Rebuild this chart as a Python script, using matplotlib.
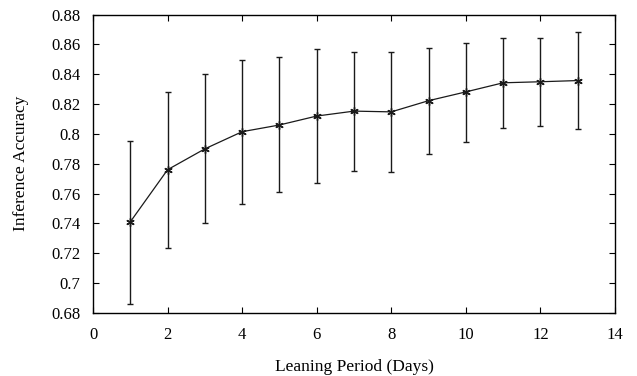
import numpy as np
import matplotlib
matplotlib.use('Agg')
import matplotlib.pyplot as plt

# 数据
days = [1, 2, 3, 4, 5, 6, 7, 8, 9, 10, 11, 12, 13]
acc_mean = [0.741, 0.776, 0.790, 0.8015, 0.806, 0.812, 0.8153, 0.8148, 0.8223, 0.8282, 0.8343, 0.8350, 0.8358]
acc_upper = [0.7955, 0.8282, 0.8404, 0.8498, 0.8514, 0.857, 0.855, 0.855, 0.8577, 0.8612, 0.8642, 0.8646, 0.8682]
acc_lower = [0.6862, 0.7236, 0.7403, 0.7531, 0.7609, 0.7672, 0.7754, 0.7745, 0.7868, 0.7949, 0.8042, 0.8052, 0.8034]

x_ticks = [0, 2, 4, 6, 8, 10, 12, 14]
y_ticks = [0.68, 0.7, 0.72, 0.74, 0.76, 0.78, 0.8, 0.82, 0.84, 0.86, 0.88]
y_tick_labels = ['0.68', '0.7', '0.72', '0.74', '0.76', '0.78', '0.8', '0.82', '0.84', '0.86', '0.88']

plt.rcParams['font.family'] = 'serif'
plt.rcParams['font.serif'] = ['Liberation Serif', 'DejaVu Serif']

fig = plt.figure(figsize=(6.37, 3.76), dpi=100, facecolor='w')
ax = fig.add_axes([0.146, 0.168, 0.8195, 0.793])

mean = np.array(acc_mean)
yerr = np.vstack([mean - np.array(acc_lower), np.array(acc_upper) - mean])

ax.errorbar(days, acc_mean, yerr=yerr, color='#1a1a1a', linewidth=0.9,
            elinewidth=1.0, capsize=2.5, capthick=0.9,
            marker=(6, 2, 0), markersize=6, markeredgewidth=1.0)

ax.set_xlim(0, 14)
ax.set_ylim(0.68, 0.88)
ax.set_xticks(x_ticks)
ax.set_yticks(y_ticks)
ax.set_yticklabels(y_tick_labels)

ax.set_xlabel('Leaning Period (Days)', fontsize=12.5, labelpad=12)
ax.set_ylabel('Inference Accuracy', fontsize=12.5, labelpad=16)
ax.tick_params(axis='both', which='major', labelsize=12, direction='in',
               top=True, right=True, length=4, width=0.8)
ax.tick_params(axis='x', pad=10)
ax.tick_params(axis='y', pad=9)
for s in ax.spines.values():
    s.set_linewidth(1.0)

fig.savefig('out.png', dpi=100)
